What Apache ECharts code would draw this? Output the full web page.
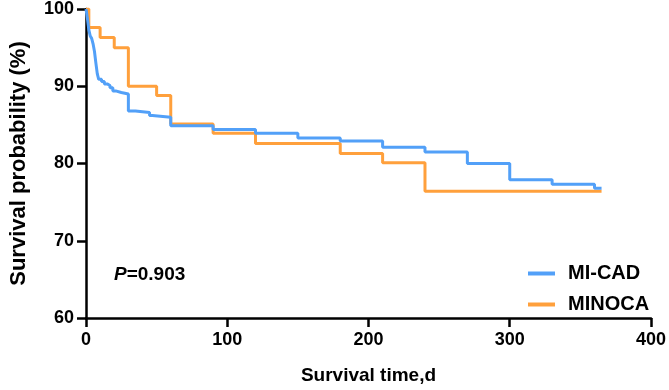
<!DOCTYPE html>
<html>
<head>
<meta charset="utf-8">
<script src="https://cdn.jsdelivr.net/npm/echarts@6/dist/echarts.min.js"></script>
<style>
html,body{margin:0;padding:0;background:#fff;}
#main{width:669px;height:390px;}
</style>
</head>
<body>
<div id="main"></div>
<script>
// Kaplan-Meier curves
var miCadDays = [0, 1, 2, 3, 4, 5, 6, 7, 8, 9, 11, 13, 15, 17, 19, 21, 25, 30, 35, 45, 47, 60, 90, 120, 150, 180, 210, 240, 270, 300, 330, 360, 365];
var miCadSurv = [100, 98.8, 97.3, 96.5, 96.2, 95.5, 94.5, 93.0, 91.6, 90.9, 90.6, 90.3, 90.1, 89.8, 89.4, 89.2, 89.0, 86.8, 86.6, 86.2, 86.0, 84.9, 84.4, 83.9, 83.3, 82.9, 82.1, 81.5, 80.0, 77.9, 77.3, 76.8, 76.8];
var minocaDays = [0, 2, 10, 20, 30, 50, 60, 90, 120, 180, 210, 240, 365];
var minocaSurv = [100, 97.6, 96.3, 95.0, 90.0, 88.8, 85.1, 83.9, 82.6, 81.3, 80.1, 76.4, 76.4];
var xTicks = [0, 400, 100];
var yTicks = [60, 100, 10];
var groups = ['MI-CAD', 'MINOCA'];
var pText = '0.903';

function pairs(xs, ys) {
    var out = [];
    for (var i = 0; i < xs.length; i++) out.push([xs[i], ys[i]]);
    return out;
}

var font = 'Liberation Sans, Arial, sans-serif';
var blue = '#52a0f8';
var orange = '#ffa03c';

var chart = echarts.init(document.getElementById('main'));
var option = {
    animation: false,
    grid: { left: 72, right: 16, top: 9, bottom: 69 },
    legend: {
        data: groups,
        orient: 'vertical',
        left: 523,
        top: 258,
        icon: 'rect',
        itemWidth: 27,
        itemHeight: 4,
        itemGap: 10,
        selectedMode: false,
        textStyle: {
            fontFamily: font, fontWeight: 'bold', fontSize: 20, color: '#000',
            lineHeight: 21, padding: [0, 0, 0, 8]
        }
    },
    xAxis: {
        type: 'value',
        min: xTicks[0], max: xTicks[1], interval: xTicks[2],
        name: 'Survival time,d',
        nameLocation: 'middle',
        nameGap: 48,
        nameTextStyle: { fontFamily: font, fontWeight: 'bold', fontSize: 19, color: '#000' },
        axisLine: { lineStyle: { color: '#000', width: 2.5 } },
        axisTick: { inside: false, length: 9, lineStyle: { color: '#000', width: 2.5 } },
        axisLabel: { margin: 13, fontFamily: font, fontWeight: 'bold', fontSize: 18, color: '#000' },
        splitLine: { show: false }
    },
    yAxis: {
        type: 'value',
        min: yTicks[0], max: yTicks[1], interval: yTicks[2],
        name: 'Survival probability (%)',
        nameLocation: 'middle',
        nameGap: 56,
        nameTextStyle: { fontFamily: font, fontWeight: 'bold', fontSize: 22, color: '#000' },
        axisLine: { show: true, lineStyle: { color: '#000', width: 2.5 } },
        axisTick: { show: true, inside: false, length: 9, lineStyle: { color: '#000', width: 2.5 } },
        axisLabel: { margin: 12, fontFamily: font, fontWeight: 'bold', fontSize: 18, color: '#000' },
        splitLine: { show: false }
    },
    graphic: [{
        type: 'text',
        left: 114,
        top: 265,
        style: {
            text: '{p|P}{v|=' + pText + '}',
            rich: {
                p: { fontFamily: font, fontWeight: 'bold', fontStyle: 'italic', fontSize: 19, fill: '#000' },
                v: { fontFamily: font, fontWeight: 'bold', fontSize: 19, fill: '#000' }
            }
        }
    }],
    series: [
        {
            name: groups[1],
            type: 'line',
            step: 'end',
            showSymbol: false,
            z: 2,
            lineStyle: { color: orange, width: 3 },
            itemStyle: { color: orange },
            data: pairs(minocaDays, minocaSurv)
        },
        {
            name: groups[0],
            type: 'line',
            step: 'end',
            showSymbol: false,
            z: 3,
            lineStyle: { color: blue, width: 3 },
            itemStyle: { color: blue },
            data: pairs(miCadDays, miCadSurv)
        }
    ]
};
chart.setOption(option);
</script>
</body>
</html>
